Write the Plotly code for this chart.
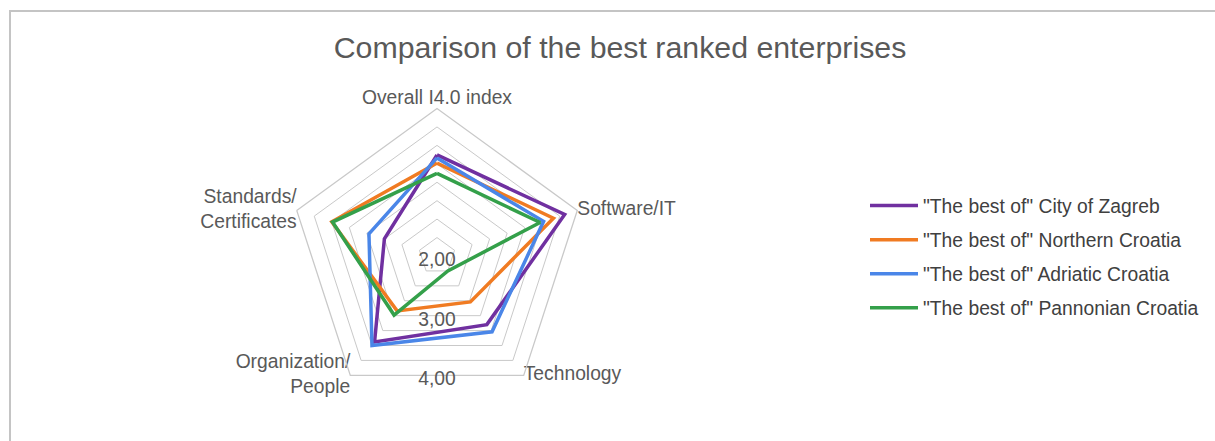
import math
import plotly.graph_objects as go

categories = ["Overall I4.0 index", "Software/IT", "Technology",
              "Organization/<br>People", "Standards/<br>Certificates"]

series_names = ['"The best of" City of Zagreb', '"The best of" Northern Croatia',
                '"The best of" Adriatic Croatia', '"The best of" Pannonian Croatia']
zagreb = [3.37, 3.82, 3.15, 3.44, 2.75]
northern = [3.26, 3.66, 2.77, 2.92, 3.50]
adriatic = [3.33, 3.52, 3.27, 3.50, 2.97]
pannonian = [3.12, 3.47, 2.25, 2.99, 3.49]
series_values = [zagreb, northern, adriatic, pannonian]
colors = ["#7030A0", "#F07B22", "#4A86E8", "#34A04A"]

radial_min, radial_max, radial_step = 2.0, 4.0, 0.25
tick_values = [2.0, 3.0, 4.0]
tick_labels = ["2,00", "3,00", "4,00"]

W, H = 1215, 441
cx, cy, R = 437, 256, 147.5
dom_x = [(cx - R) / W, (cx + R) / W]
dom_y = [1 - (cy + R) / H, 1 - (cy - R) / H]

FONT = "Liberation Sans, Arial, sans-serif"
TXT = "#595959"
GRID = "#C9C9C9"
FS = 19.3
LABEL_PAD = 0.07  # small radial padding for value labels (axis units)

fig = go.Figure()
for name, vals, col in zip(series_names, series_values, colors):
    fig.add_trace(go.Scatterpolar(
        r=vals + vals[:1], theta=categories + categories[:1],
        mode="lines", name=name, legendgroup=name,
        line=dict(color=col, width=3.5),
        subplot="polar", hoverinfo="skip"))

# category labels placed at the outer vertices of the grid
fig.add_trace(go.Scatterpolar(
    r=[radial_max] * len(categories), theta=categories, mode="text",
    text=categories,
    textposition=["top center", "middle right", "middle right", "middle left", "middle left"],
    textfont=dict(family=FONT, size=FS, color=TXT),
    showlegend=False, subplot="polar", hoverinfo="skip", cliponaxis=False))

# radial value labels along the downward direction (mid of bottom edge)
edge = math.cos(math.radians(36))
fig.add_trace(go.Scatterpolar(
    r=[radial_min + (v - radial_min) * edge + LABEL_PAD for v in tick_values],
    theta=[180] * len(tick_values), mode="text", text=tick_labels,
    textfont=dict(family=FONT, size=FS, color=TXT),
    showlegend=False, subplot="polar2", hoverinfo="skip", cliponaxis=False))

fig.update_layout(
    width=W, height=H,
    margin=dict(l=0, r=0, t=0, b=0),
    paper_bgcolor="white", plot_bgcolor="white",
    font=dict(family=FONT, color=TXT),
    title=dict(text="Comparison of the best ranked enterprises",
               x=620 / W, xanchor="center", y=1 - 47 / H, yanchor="middle",
               font=dict(family=FONT, size=30.3, color=TXT)),
    polar=dict(
        domain=dict(x=dom_x, y=dom_y),
        bgcolor="rgba(0,0,0,0)",
        gridshape="linear",
        radialaxis=dict(range=[radial_min, radial_max], dtick=radial_step, tick0=radial_min,
                        showticklabels=False, ticks="", showline=False,
                        gridcolor=GRID, gridwidth=1.3),
        angularaxis=dict(direction="clockwise", rotation=90, showgrid=False,
                         linecolor=GRID, linewidth=1.3, ticks="",
                         showticklabels=False),
    ),
    polar2=dict(
        domain=dict(x=dom_x, y=dom_y),
        bgcolor="rgba(0,0,0,0)",
        radialaxis=dict(range=[radial_min, radial_max], visible=False),
        angularaxis=dict(direction="clockwise", rotation=90, visible=False,
                         thetaunit="degrees"),
    ),
    legend=dict(x=865 / W, xanchor="left", y=1 - 257 / H, yanchor="middle",
                font=dict(family=FONT, size=FS, color="#404040"),
                tracegroupgap=6, itemwidth=48, bgcolor="rgba(0,0,0,0)"),
    shapes=[dict(type="rect", xref="paper", yref="paper",
                 x0=10 / W, x1=1.01, y0=-0.01, y1=1 - 11 / H,
                 line=dict(color="#C4C4C4", width=2), fillcolor="rgba(0,0,0,0)",
                 layer="below")],
)

fig.write_html("out.html")
